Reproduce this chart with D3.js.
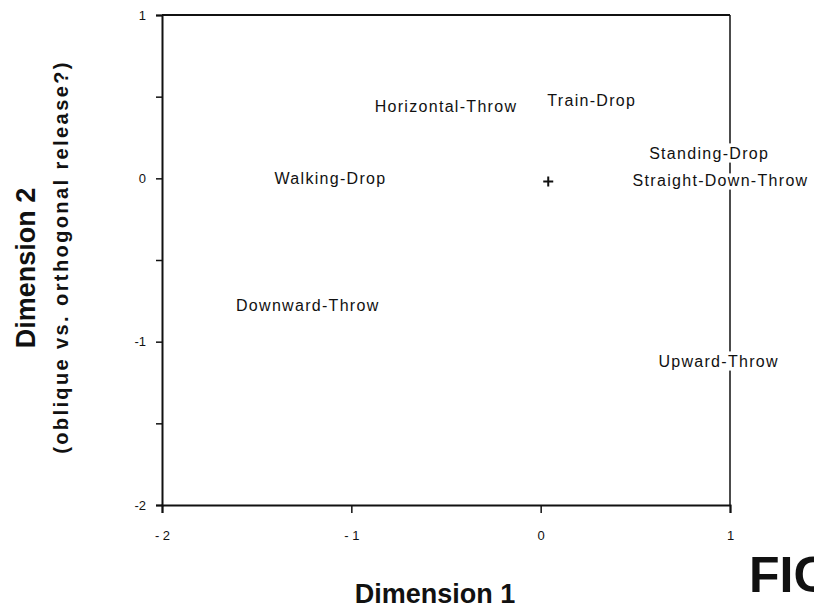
<!DOCTYPE html>
<html>
<head>
<meta charset="utf-8">
<script src="https://cdn.jsdelivr.net/npm/d3@7"></script>
<style>
  body { margin: 0; background: #fff; }
  text { font-family: "Liberation Sans", Arial, sans-serif; fill: #111; }
</style>
</head>
<body>
<svg id="chart" width="814" height="612"></svg>
<script>
// stimulus names and their positions in the 2-D solution
const labels = ["Horizontal-Throw", "Train-Drop", "Standing-Drop", "Straight-Down-Throw",
                "Walking-Drop", "Downward-Throw", "Upward-Throw"];
const dim1 = [-0.50, 0.27, 0.89, 0.95, -1.11, -1.23, 0.94];
const dim2 = [0.44, 0.48, 0.15, -0.01, 0.0, -0.78, -1.12];
// the centroid marker
const centre = [0.04, -0.02];

const xTicks = [-2, -1, 0, 1];
const xTickLabels = ["- 2", "- 1", "0", "1"];
const yTicks = [-2, -1.5, -1, -0.5, 0, 0.5, 1];
const yTickLabels = {"-2": "-2", "-1": "-1", "0": "0", "1": "1"};

const svg = d3.select("#chart");

const x = d3.scaleLinear().domain([-2, 1]).range([162, 730]);
const y = d3.scaleLinear().domain([-2, 1]).range([505, 15]);

// axes
const xAxis = d3.axisBottom(x)
  .tickValues(xTicks)
  .tickSize(8)
  .tickPadding(18)
  .tickFormat((d, i) => xTickLabels[i]);

const yAxis = d3.axisLeft(y)
  .tickValues(yTicks)
  .tickSize(6)
  .tickPadding(10)
  .tickFormat(d => yTickLabels[String(d)] || "");

const gx = svg.append("g")
  .attr("transform", "translate(0," + y(-2) + ")")
  .call(xAxis);
const gy = svg.append("g")
  .attr("transform", "translate(" + x(-2) + ",0)")
  .call(yAxis);

[gx, gy].forEach(g => {
  g.select(".domain").attr("stroke", "#111").attr("stroke-width", 2);
  g.selectAll(".tick line").attr("stroke", "#111").attr("stroke-width", 1.5);
  g.selectAll(".tick text").style("font-size", "13px").attr("fill", "#111");
});

// top and right of the frame
svg.append("line")
  .attr("x1", x(-2)).attr("x2", x(1))
  .attr("y1", y(1)).attr("y2", y(1))
  .attr("stroke", "#111").attr("stroke-width", 2);
svg.append("line")
  .attr("x1", x(1)).attr("x2", x(1))
  .attr("y1", y(1)).attr("y2", y(-2))
  .attr("stroke", "#111").attr("stroke-width", 1.5);

// stimulus labels, white halo breaks the frame where they cross it
svg.selectAll("text.stim")
  .data(labels)
  .enter()
  .append("text")
  .attr("class", "stim")
  .attr("x", (d, i) => x(dim1[i]))
  .attr("y", (d, i) => y(dim2[i]))
  .attr("dy", "0.35em")
  .attr("text-anchor", "middle")
  .style("font-size", "16px")
  .style("letter-spacing", "1.3px")
  .style("paint-order", "stroke")
  .attr("stroke", "#fff")
  .attr("stroke-width", 7)
  .text(d => d);

// centroid "+"
const cx = x(centre[0]), cy = y(centre[1]);
svg.append("path")
  .attr("d", "M" + (cx - 5) + "," + cy + "H" + (cx + 5) + "M" + cx + "," + (cy - 5) + "V" + (cy + 5))
  .attr("stroke", "#111")
  .attr("stroke-width", 2);

// axis titles
svg.append("text")
  .attr("x", 435)
  .attr("y", 603)
  .attr("text-anchor", "middle")
  .style("font-size", "27px")
  .style("font-weight", "bold")
  .text("Dimension 1");

svg.append("text")
  .attr("transform", "translate(35,268) rotate(-90)")
  .attr("text-anchor", "middle")
  .style("font-size", "27px")
  .style("font-weight", "bold")
  .text("Dimension 2");

svg.append("text")
  .attr("transform", "translate(68,257) rotate(-90)")
  .attr("text-anchor", "middle")
  .style("font-size", "20px")
  .style("font-weight", "bold")
  .style("letter-spacing", "2.4px")
  .text("(oblique vs. orthogonal release?)");

svg.append("text")
  .attr("x", 749)
  .attr("y", 592)
  .style("font-size", "50px")
  .style("font-weight", "bold")
  .text("FIG");
</script>
</body>
</html>
